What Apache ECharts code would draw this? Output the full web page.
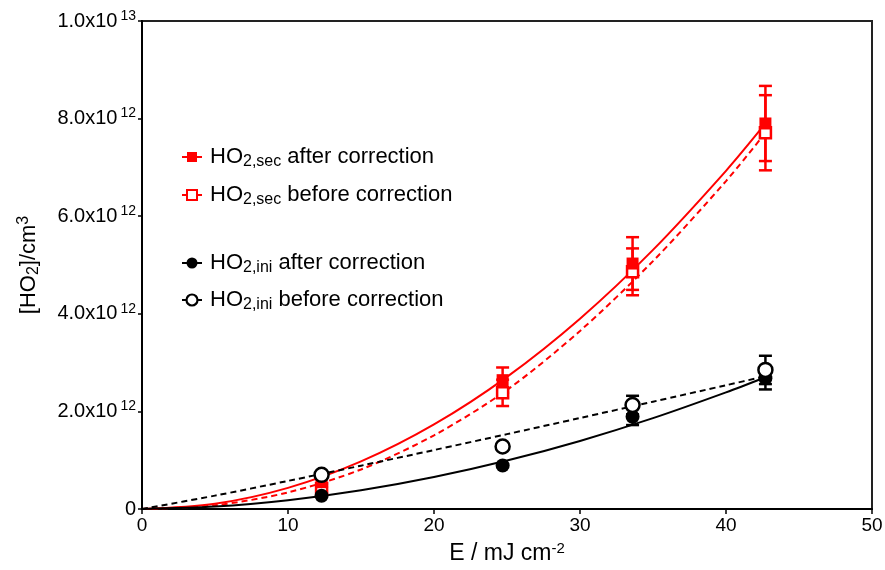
<!DOCTYPE html>
<html>
<head>
<meta charset="utf-8">
<script src="https://cdn.jsdelivr.net/npm/echarts@6/dist/echarts.min.js"></script>
<style>
  html, body { margin: 0; padding: 0; background: #fff; }
  #chart { width: 885px; height: 570px; }
</style>
</head>
<body>
<div id="chart"></div>
<script>
// Laser fluence (mJ cm^-2) of the measured points
const energy = [12.3, 24.7, 33.6, 42.7];

// HO2 concentrations in units of 1e12 molecules/cm3, with their error bars
const secAfter = [0.55, 2.64, 5.03, 7.90];
const secAfterErr = [0.10, 0.26, 0.54, 0.77];
const secBefore = [0.42, 2.38, 4.86, 7.71];
const secBeforeErr = [0.10, 0.27, 0.48, 0.77];
const iniAfter = [0.27, 0.89, 1.89, 2.68];
const iniAfterErr = [0.02, 0.03, 0.17, 0.23];
const iniBefore = [0.70, 1.28, 2.13, 2.85];
const iniBeforeErr = [0.04, 0.06, 0.19, 0.29];

// Fitted curves, sampled along the fluence axis
const fitE = [0, 5, 10, 15, 20, 25, 30, 35, 40, 42.7];
const secAfterFit = [0, 0.108, 0.433, 0.975, 1.733, 2.708, 3.90, 5.31, 6.93, 7.90];
const secBeforeFit = [0, 0.077, 0.34, 0.81, 1.51, 2.44, 3.65, 5.08, 6.72, 7.71];
const iniAfterFit = [0, 0.049, 0.179, 0.382, 0.654, 0.992, 1.395, 1.862, 2.39, 2.70];
const iniBeforeFit = [0, 0.274, 0.576, 0.888, 1.208, 1.534, 1.865, 2.199, 2.536, 2.72];

// Axis ticks
const xTicks = [0, 10, 20, 30, 40, 50];
const yTicks = [0, 2, 4, 6, 8, 10];

const RED = '#ff0000';
const BLACK = '#000000';
const FONT = 'Liberation Sans, Arial, sans-serif';

const pairs = (xs, ys) => xs.map((x, i) => [x, ys[i]]);
const errs = (xs, ys, es) => xs.map((x, i) => [x, ys[i], es[i]]);

function errorBars(name, data, color, z) {
  return {
    name: name + ' err',
    type: 'custom',
    z: z,
    data: data,
    silent: true,
    renderItem: function (params, api) {
      const x = api.value(0), y = api.value(1), e = api.value(2);
      const top = api.coord([x, y + e]);
      const bot = api.coord([x, y - e]);
      const w = 6.5;
      const style = { stroke: color, lineWidth: 2.5 };
      return {
        type: 'group',
        children: [
          { type: 'line', shape: { x1: top[0], y1: top[1], x2: bot[0], y2: bot[1] }, style: style },
          { type: 'line', shape: { x1: top[0] - w, y1: top[1], x2: top[0] + w, y2: top[1] }, style: style },
          { type: 'line', shape: { x1: bot[0] - w, y1: bot[1], x2: bot[0] + w, y2: bot[1] }, style: style }
        ]
      };
    }
  };
}

function fitLine(data, color, dashed) {
  return {
    type: 'line',
    data: data,
    smooth: 0.3,
    symbol: 'none',
    silent: true,
    z: 2,
    lineStyle: { color: color, width: 2, type: dashed ? [6, 4] : 'solid' }
  };
}

function markers(data, symbol, size, color, open, z) {
  return {
    type: 'scatter',
    data: data,
    symbol: symbol,
    symbolSize: size,
    z: z,
    silent: true,
    itemStyle: open
      ? { color: '#ffffff', borderColor: color, borderWidth: 2.5, opacity: 1 }
      : { color: color, opacity: 1 }
  };
}

// Legend built from graphic elements so that subscripts can be drawn
const legendRows = [
  { y: 157, color: RED, symbol: 'rect', open: false, sub: '2,sec', text: ' after correction' },
  { y: 195, color: RED, symbol: 'rect', open: true, sub: '2,sec', text: ' before correction' },
  { y: 263, color: BLACK, symbol: 'circle', open: false, sub: '2,ini', text: ' after correction' },
  { y: 300, color: BLACK, symbol: 'circle', open: true, sub: '2,ini', text: ' before correction' }
];

const legendGraphics = legendRows.map(function (r) {
  const cx = 192;
  const marker = r.symbol === 'rect'
    ? { type: 'rect', shape: { x: cx - 5, y: r.y - 5, width: 10, height: 10 },
        style: r.open ? { fill: '#fff', stroke: r.color, lineWidth: 2 } : { fill: r.color } }
    : { type: 'circle', shape: { cx: cx, cy: r.y, r: 5.5 },
        style: r.open ? { fill: '#fff', stroke: r.color, lineWidth: 2.2 } : { fill: r.color } };
  return {
    type: 'group',
    children: [
      { type: 'line', shape: { x1: 182, y1: r.y, x2: 202, y2: r.y }, style: { stroke: r.color, lineWidth: 2 } },
      marker,
      {
        type: 'text',
        x: 210, y: r.y,
        style: {
          text: '{m|HO}{s|' + r.sub + '}{m|' + r.text + '}',
          verticalAlign: 'middle',
          rich: {
            m: { fontSize: 22, fontFamily: FONT, fill: '#000', lineHeight: 26, verticalAlign: 'middle' },
            s: { fontSize: 16, fontFamily: FONT, fill: '#000', lineHeight: 16, verticalAlign: 'bottom' }
          }
        }
      }
    ]
  };
});

const chart = echarts.init(document.getElementById('chart'), null, { renderer: 'canvas' });

chart.setOption({
  animation: false,
  backgroundColor: '#ffffff',
  grid: {
    left: 142, right: 13, top: 21, bottom: 61,
    outerBoundsMode: 'none',
    containLabel: false,
    show: true, borderColor: '#222', borderWidth: 2, backgroundColor: 'transparent'
  },
  xAxis: {
    type: 'value',
    min: xTicks[0], max: xTicks[xTicks.length - 1], interval: 10,
    name: '{m|E / mJ cm}{p|-2}',
    nameLocation: 'middle',
    nameGap: 32,
    nameTextStyle: {
      rich: {
        m: { fontSize: 23, fontFamily: FONT, color: '#000', lineHeight: 26, verticalAlign: 'middle' },
        p: { fontSize: 15, fontFamily: FONT, color: '#000', lineHeight: 15, verticalAlign: 'top' }
      }
    },
    axisLine: { lineStyle: { color: '#000', width: 2 } },
    axisTick: { show: true, inside: false, length: 5, lineStyle: { color: '#000', width: 1.5 } },
    axisLabel: { fontSize: 19, fontFamily: FONT, color: '#000', margin: 7 },
    splitLine: { show: false }
  },
  yAxis: {
    type: 'value',
    min: yTicks[0], max: yTicks[yTicks.length - 1], interval: 2,
    name: '{m|[HO}{s|2}{m|]/cm}{p|3}',
    nameLocation: 'middle',
    nameRotate: 90,
    nameGap: 100,
    nameTextStyle: {
      rich: {
        m: { fontSize: 22, fontFamily: FONT, color: '#000', lineHeight: 26, verticalAlign: 'middle' },
        s: { fontSize: 16, fontFamily: FONT, color: '#000', lineHeight: 16, verticalAlign: 'bottom' },
        p: { fontSize: 16, fontFamily: FONT, color: '#000', lineHeight: 16, verticalAlign: 'top' }
      }
    },
    axisLine: { show: true, lineStyle: { color: '#000', width: 2 } },
    axisTick: { show: true, inside: false, length: 4, lineStyle: { color: '#000', width: 1.5 } },
    axisLabel: {
      margin: 6,
      formatter: function (v) {
        if (v === 0) return '{m|0}';
        const exp = v >= 10 ? 13 : 12;
        const mant = v >= 10 ? v / 10 : v;
        return '{m|' + mant.toFixed(1) + 'x10}{p|' + exp + '}';
      },
      rich: {
        m: { fontSize: 20, fontFamily: FONT, color: '#000', lineHeight: 24, verticalAlign: 'middle' },
        p: { fontSize: 14, fontFamily: FONT, color: '#000', lineHeight: 14, verticalAlign: 'top', padding: [0, 0, 0, 3] }
      }
    },
    splitLine: { show: false }
  },
  graphic: legendGraphics,
  series: [
    fitLine(pairs(fitE, secAfterFit), RED, false),
    fitLine(pairs(fitE, secBeforeFit), RED, true),
    fitLine(pairs(fitE, iniAfterFit), BLACK, false),
    fitLine(pairs(fitE, iniBeforeFit), BLACK, true),
    errorBars('secBefore', errs(energy, secBefore, secBeforeErr), RED, 3),
    errorBars('secAfter', errs(energy, secAfter, secAfterErr), RED, 3),
    errorBars('iniAfter', errs(energy, iniAfter, iniAfterErr), BLACK, 3),
    errorBars('iniBefore', errs(energy, iniBefore, iniBeforeErr), BLACK, 3),
    markers(pairs(energy, secBefore), 'rect', 11, RED, true, 4),
    markers(pairs(energy, secAfter), 'rect', 12, RED, false, 5),
    markers(pairs(energy, iniAfter), 'circle', 14, BLACK, false, 6),
    markers(pairs(energy, iniBefore), 'circle', 14, BLACK, true, 7)
  ]
});
</script>
</body>
</html>
